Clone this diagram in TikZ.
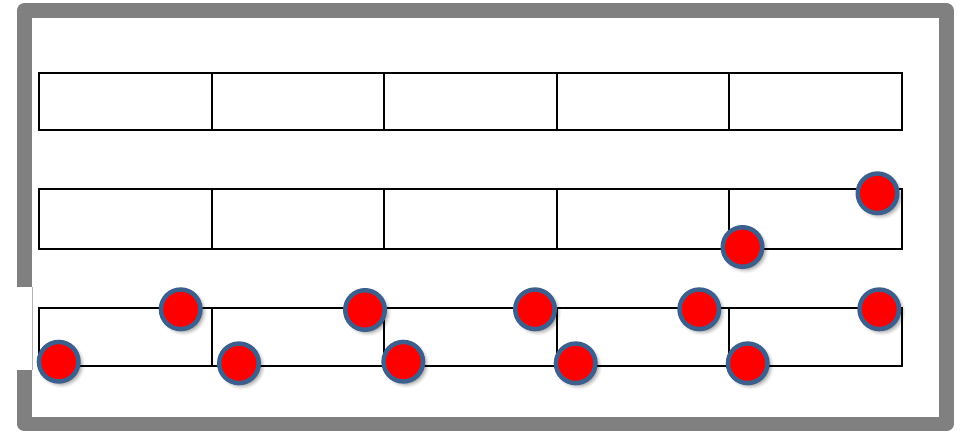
\documentclass[tikz,border=0pt]{standalone}
\usepackage{tikz}
\usetikzlibrary{positioning,shadows.blur}

\definecolor{wallgray}{HTML}{808080}
\definecolor{dotblue}{HTML}{3C5F8D}

\begin{document}
\begin{tikzpicture}[
      x=0.02cm, y=-0.02cm,
      wall/.style={draw=wallgray, line width=0.3cm, line join=round},
      cell/.style={draw, line width=0.04cm, minimum width=3.453cm, inner sep=0pt, outer sep=0pt},
      dot/.style={circle, draw=dotblue, fill=red, line width=0.09cm, minimum size=0.79cm, inner sep=0pt,
        blur shadow={shadow xshift=1.6pt, shadow yshift=-1.6pt, shadow blur radius=2.2pt, shadow opacity=45}},
    ]
      \useasboundingbox (0,0) rectangle (964,432);
      % room outline with the opening on the left
      \coordinate (gaptop) at (24.5,287);
      \coordinate (gapbot) at (24.5,370);
      \draw[wall] (gaptop) -- (24.5,10.5) -- (946,10.5) -- (946,424) -- (24.5,424) -- (gapbot);
      \draw[wallgray!60, line width=0.5pt] (32,287) -- (32,370);

      % three rows of five cells
      \foreach \r/\y/\h in {a/101.5/1.14cm, b/219/1.2cm, c/337/1.16cm}{
        \node[cell, minimum height=\h] (\r1) at (125.3,\y) {};
        \foreach \i [evaluate=\i as \p using int(\i-1)] in {2,...,5}{
          \node[cell, right=0pt of \r\p, minimum height=\h] (\r\i) {};
        }
      }

      % dots
      \node[dot] (d1) at (877.5,193.3) {};
      \node[dot] (d2) at (742.5,247) {};
      \node[dot] (d3) at (180.7,309.3) {};
      \node[dot] (d4) at (365,310) {};
      \node[dot] (d5) at (535,309.3) {};
      \node[dot] (d6) at (699.3,309.3) {};
      \node[dot] (d7) at (879.3,309.3) {};
      \node[dot] (d8) at (58.7,361.7) {};
      \node[dot] (d9) at (239,363.3) {};
      \node[dot] (d10) at (403.3,361.7) {};
      \node[dot] (d11) at (575.7,363.3) {};
      \node[dot] (d12) at (747.7,363.3) {};
    \end{tikzpicture}
\end{document}
